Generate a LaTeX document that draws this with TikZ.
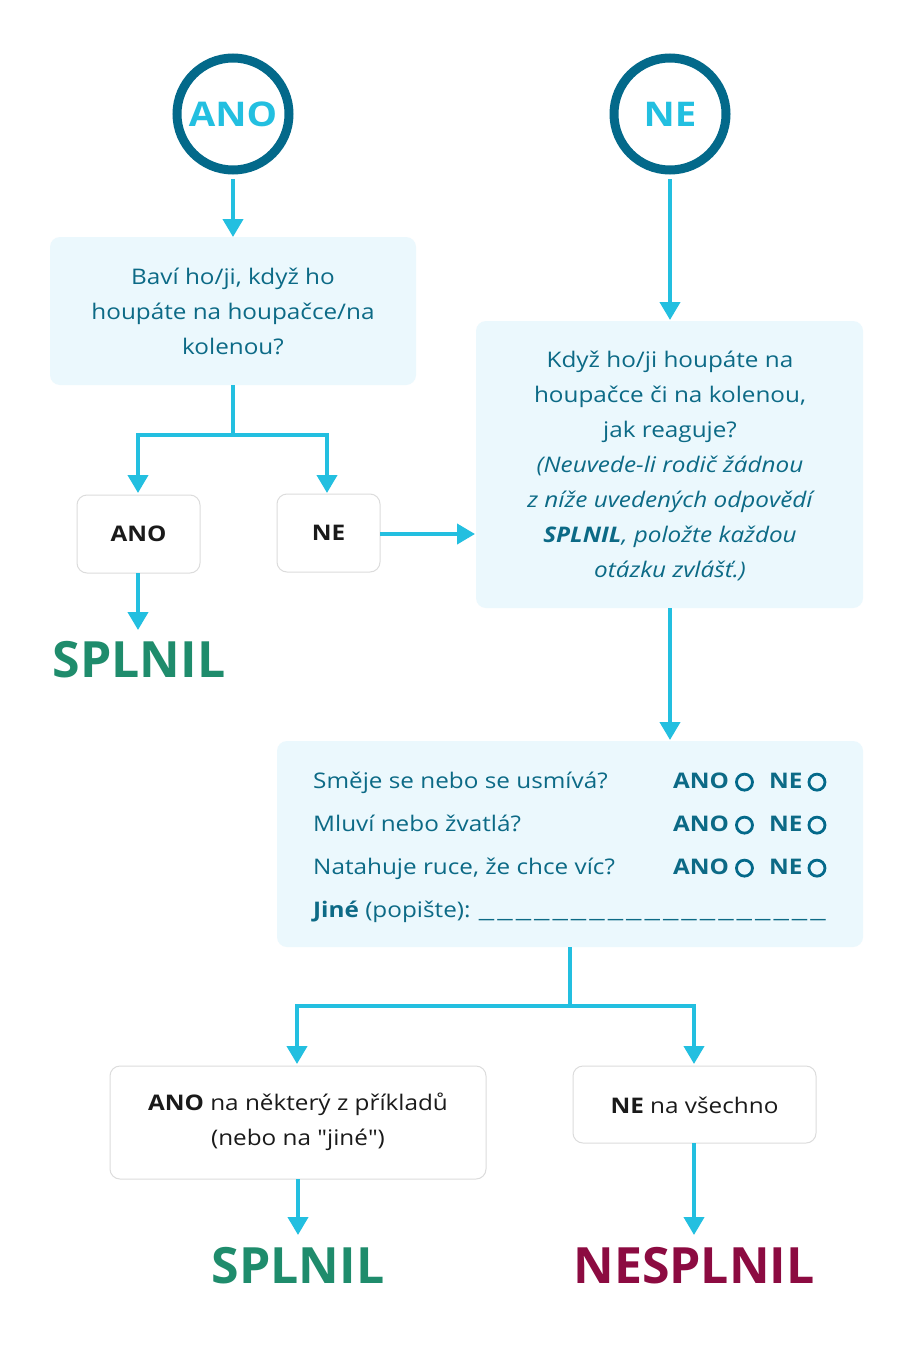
\documentclass[tikz,border=0pt]{standalone}
\usepackage{fontspec}
\setmainfont{Open Sans}[FakeStretch=1.13]
\newfontfamily\resfont{Open Sans}
\newfontfamily\usfont{Open Sans}[FakeStretch=1.6]
\newfontfamily\qfont{Open Sans}[FakeStretch=1.13,Ligatures=TeXOff]
\usetikzlibrary{arrows.meta}
\definecolor{dteal}{HTML}{03698A}
\definecolor{tteal}{HTML}{0C6A86}
\definecolor{lfill}{HTML}{EBF8FD}
\definecolor{cyan}{HTML}{23BFE0}
\definecolor{okgreen}{HTML}{1F8C6C}
\definecolor{maroon}{HTML}{8C0B41}
\definecolor{gborder}{HTML}{DCDCDC}
\definecolor{tblack}{HTML}{1A1A1A}
\newcommand{\us}{{\usfont\_}\kern3pt}
\newcommand{\qq}{{\qfont"}}
\newcommand{\rc}{\tikz[baseline=-0.5ex]\draw[dteal,line width=2.8pt](0,0.0) circle (8pt);}
\begin{document}
\begin{tikzpicture}[x=1pt,y=-1pt,
  circ/.style={circle,draw=dteal,line width=9pt,minimum size=112pt,inner sep=0pt,text=cyan,font=\fontsize{34}{40}\selectfont\bfseries},
  qbox/.style={rounded corners=10pt,fill=lfill,draw=none},
  wbox/.style={rounded corners=10pt,fill=white,draw=gborder,line width=1pt},
  qtext/.style={text=tteal,font=\fontsize{21.5}{35}\selectfont,align=center},
  btext/.style={text=tblack,font=\fontsize{21.5}{35}\selectfont,align=center},
  arr/.style={draw=cyan,line width=4pt,-{Triangle[width=20pt,length=18pt]}},
  ln/.style={draw=cyan,line width=4pt},
  res/.style={font=\resfont\fontsize{50}{60}\selectfont\bfseries}
]
\useasboundingbox[fill=white] (0,0) rectangle (914,1346);
% circles
\node[circ] (ano) at (233,114) {ANO};
\node[circ] (ne) at (670,114) {NE};
% box 1
\path[qbox] (50,237) rectangle (416,385);
\node[qtext] (b1) at (233,311) {Baví ho/ji, když ho\\houpáte na houpačce/na\\kolenou?};
\coordinate (b1t) at (233,237);
\coordinate (b1b) at (233,385);
% small boxes
\path[wbox] (77,495) rectangle (200,573);
\node[btext,font=\fontsize{21.5}{26}\selectfont\bfseries] (sano) at (138.5,534) {ANO};
\path[wbox] (277,494) rectangle (380,572);
\node[btext,font=\fontsize{21.5}{26}\selectfont\bfseries] (sne) at (328.5,533) {NE};
\coordinate (sanot) at (138,493);
\coordinate (sanob) at (138,573);
\coordinate (snet) at (327,493);
\coordinate (sner) at (380,534);
\node[res,text=okgreen] (spl1) at (139,660) {SPLNIL};
\coordinate (spl1t) at (138,630);
% right box
\path[qbox] (476,321) rectangle (863,608);
\node[qtext] (b2) at (670,466) {Když ho/ji houpáte na\\houpačce či na kolenou,\\jak reaguje?\\\itshape (Neuvede-li rodič žádnou\\\itshape z níže uvedených odpovědí\\\itshape\bfseries SPLNIL\mdseries, položte každou\\\itshape otázku zvlášť.)};
\coordinate (b2t) at (670,320);
\coordinate (b2l) at (475,534);
\coordinate (b2b) at (670,608);
% box 3
\path[qbox] (277,741) rectangle (863,947);
\coordinate (b3t) at (670,740);
\coordinate (b3b) at (570,947);
\begin{scope}[every node/.style={text=tteal,font=\fontsize{21.5}{26}\selectfont,anchor=base west,inner sep=0pt}]
\node (q1) at (313,788) {Směje se nebo se usmívá?};
\node (q2) at (313,831) {Mluví nebo žvatlá?};
\node (q3) at (313,874) {Natahuje ruce, že chce víc?};
\node (q4) at (313,917) {\bfseries Jiné \mdseries(popište): \us\us\us\us\us\us\us\us\us\us\us\us\us\us\us\us\us\us{\usfont\_}};
\foreach \y/\n in {788/1,831/2,874/3}{
  \node (a\n) at (673,\y) {\bfseries ANO\kern6pt\rc};
  \node (n\n) at (769,\y) {\bfseries NE\kern5pt\rc};
}
\end{scope}
% box 4,5
\path[wbox] (110,1066) rectangle (486,1179);
\node[btext] (b4) at (298,1122) {\textbf{ANO} na některý z příkladů\\(nebo na \qq jiné\qq )};
\path[wbox] (573,1066) rectangle (816,1143);
\node[btext] (b5) at (694.5,1105) {\textbf{NE} na všechno};
\coordinate (b4t) at (297,1064);
\coordinate (b4b) at (298,1179);
\coordinate (b5t) at (694,1064);
\coordinate (b5b) at (694,1143);
\node[res,text=okgreen] (spl2) at (298,1266) {SPLNIL};
\node[res,text=maroon] (nspl) at (694,1266) {NESPLNIL};
\coordinate (spl2t) at (298,1235);
\coordinate (nsplt) at (694,1235);
% connectors
\draw[arr] (ano.south) ++(0,4.5) -- (b1t);
\draw[arr] (ne.south) ++(0,4.5) -- (b2t);
\draw[ln] (b1b) -- (233,435);
\draw[arr] (233,435) -| (sanot);
\draw[arr] (233,435) -| (snet);
\draw[arr] (sanob) -- (spl1t);
\draw[arr] (sner) -- (b2l);
\draw[arr] (b2b) -- (b3t);
\draw[ln] (b3b) -- (570,1006);
\draw[arr] (570,1006) -| (b4t);
\draw[arr] (570,1006) -| (b5t);
\draw[arr] (b4b) -- (spl2t);
\draw[arr] (b5b) -- (nsplt);
\end{tikzpicture}
\end{document}
